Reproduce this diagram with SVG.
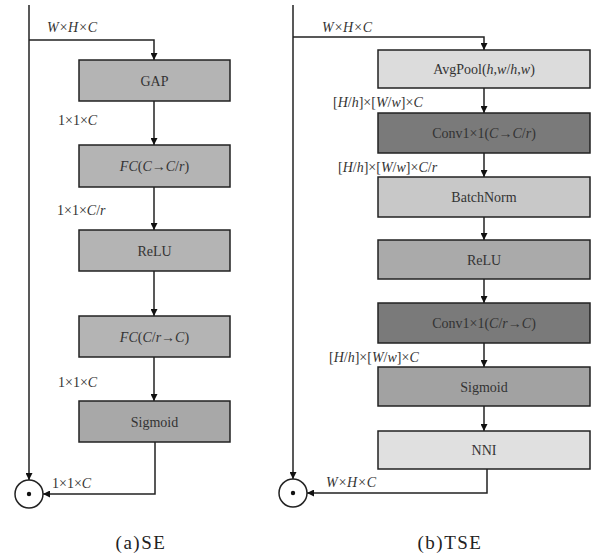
<svg xmlns="http://www.w3.org/2000/svg" width="595" height="556" viewBox="0 0 595 556">
<style>
text{font-family:"Liberation Serif","DejaVu Serif","Times New Roman",serif;font-size:14px;fill:#333}
.c{text-anchor:middle}
.bx{stroke:#222;stroke-width:1.5}
.ln{fill:none;stroke:#222;stroke-width:1.5}
.cap{font-size:19px;fill:#222;letter-spacing:1.5px}
</style>
<defs>
<marker id="ah" viewBox="0 0 10 10" refX="10" refY="5" markerWidth="7" markerHeight="7" markerUnits="userSpaceOnUse" orient="auto">
<path d="M0,0L10,5L0,10z" fill="#111"/>
</marker>
</defs>
<rect width="595" height="556" fill="#fff"/>
<g id="connectors">
<path class="ln" d="M29,5V480" marker-end="url(#ah)"/>
<path class="ln" d="M29,40H154V60" marker-end="url(#ah)"/>
<path class="ln" d="M154,101V145" marker-end="url(#ah)"/>
<path class="ln" d="M154,187V230" marker-end="url(#ah)"/>
<path class="ln" d="M154,271V316" marker-end="url(#ah)"/>
<path class="ln" d="M154,357V401" marker-end="url(#ah)"/>
<path class="ln" d="M155,442V494H43" marker-end="url(#ah)"/>
<path class="ln" d="M293,5V479" marker-end="url(#ah)"/>
<path class="ln" d="M293,37H484V50" marker-end="url(#ah)"/>
<path class="ln" d="M484,88V113" marker-end="url(#ah)"/>
<path class="ln" d="M484,153V177" marker-end="url(#ah)"/>
<path class="ln" d="M484,217V240" marker-end="url(#ah)"/>
<path class="ln" d="M484,279V303" marker-end="url(#ah)"/>
<path class="ln" d="M484,343V367" marker-end="url(#ah)"/>
<path class="ln" d="M484,406V431" marker-end="url(#ah)"/>
<path class="ln" d="M487,469V493H307" marker-end="url(#ah)"/>
<text x="47" y="32" font-style="italic">W×H×C</text>
<text x="58" y="125">1×1×<tspan font-style="italic">C</tspan></text>
<text x="57" y="215">1×1×<tspan font-style="italic">C</tspan>/<tspan font-style="italic">r</tspan></text>
<text x="58" y="387">1×1×<tspan font-style="italic">C</tspan></text>
<text x="52" y="488">1×1×<tspan font-style="italic">C</tspan></text>
<text x="322" y="32" font-style="italic">W×H×C</text>
<text x="333" y="107">[<tspan font-style="italic">H</tspan>/<tspan font-style="italic">h</tspan>]×[<tspan font-style="italic">W</tspan>/<tspan font-style="italic">w</tspan>]×<tspan font-style="italic">C</tspan></text>
<text x="338" y="172">[<tspan font-style="italic">H</tspan>/<tspan font-style="italic">h</tspan>]×[<tspan font-style="italic">W</tspan>/<tspan font-style="italic">w</tspan>]×<tspan font-style="italic">C</tspan>/<tspan font-style="italic">r</tspan></text>
<text x="329" y="362">[<tspan font-style="italic">H</tspan>/<tspan font-style="italic">h</tspan>]×[<tspan font-style="italic">W</tspan>/<tspan font-style="italic">w</tspan>]×<tspan font-style="italic">C</tspan></text>
<text x="326" y="487" font-style="italic">W×H×C</text>
</g>
<g id="se_gap"><rect class="bx" x="79" y="60" width="151" height="41" fill="#b4b4b4"/><text class="c" x="154.5" y="85.5">GAP</text></g>
<g id="se_fc1"><rect class="bx" x="79" y="145" width="151" height="42" fill="#b4b4b4"/><text class="c" x="154.5" y="171"><tspan font-style="italic">FC</tspan>(<tspan font-style="italic">C</tspan>→<tspan font-style="italic">C</tspan>/<tspan font-style="italic">r</tspan>)</text></g>
<g id="se_relu"><rect class="bx" x="79" y="230" width="151" height="41" fill="#b4b4b4"/><text class="c" x="154.5" y="255.5">ReLU</text></g>
<g id="se_fc2"><rect class="bx" x="79" y="316" width="151" height="41" fill="#b4b4b4"/><text class="c" x="154.5" y="341.5"><tspan font-style="italic">FC</tspan>(<tspan font-style="italic">C</tspan>/<tspan font-style="italic">r</tspan>→<tspan font-style="italic">C</tspan>)</text></g>
<g id="se_sigmoid"><rect class="bx" x="79" y="401" width="151" height="41" fill="#a8a8a8"/><text class="c" x="154.5" y="426.5">Sigmoid</text></g>
<g id="se_mul"><circle cx="29" cy="494" r="14" fill="#fff" stroke="#222" stroke-width="1.5"/><circle cx="29" cy="494" r="2.2" fill="#111"/></g>
<g id="tse_avgpool"><rect class="bx" x="378" y="50" width="212" height="38" fill="#dcdcdc"/><text class="c" x="484" y="74">AvgPool(<tspan font-style="italic">h</tspan>,<tspan font-style="italic">w</tspan>/<tspan font-style="italic">h</tspan>,<tspan font-style="italic">w</tspan>)</text></g>
<g id="tse_conv1"><rect class="bx" x="378" y="113" width="212" height="40" fill="#7a7a7a"/><text class="c" x="484" y="138">Conv1×1(<tspan font-style="italic">C</tspan>→<tspan font-style="italic">C</tspan>/<tspan font-style="italic">r</tspan>)</text></g>
<g id="tse_bn"><rect class="bx" x="378" y="177" width="212" height="40" fill="#c8c8c8"/><text class="c" x="484" y="202">BatchNorm</text></g>
<g id="tse_relu"><rect class="bx" x="378" y="240" width="212" height="39" fill="#aaaaaa"/><text class="c" x="484" y="264.5">ReLU</text></g>
<g id="tse_conv2"><rect class="bx" x="378" y="303" width="212" height="40" fill="#7a7a7a"/><text class="c" x="484" y="328">Conv1×1(<tspan font-style="italic">C</tspan>/<tspan font-style="italic">r</tspan>→<tspan font-style="italic">C</tspan>)</text></g>
<g id="tse_sigmoid"><rect class="bx" x="378" y="367" width="212" height="39" fill="#a2a2a2"/><text class="c" x="484" y="391.5">Sigmoid</text></g>
<g id="tse_nni"><rect class="bx" x="378" y="431" width="212" height="38" fill="#e0e0e0"/><text class="c" x="484" y="455">NNI</text></g>
<g id="tse_mul"><circle cx="293" cy="493" r="14" fill="#fff" stroke="#222" stroke-width="1.5"/><circle cx="293" cy="493" r="2.2" fill="#111"/></g>
<text class="c cap" x="141" y="549">(a)SE</text>
<text class="c cap" x="450" y="549">(b)TSE</text>
</svg>
